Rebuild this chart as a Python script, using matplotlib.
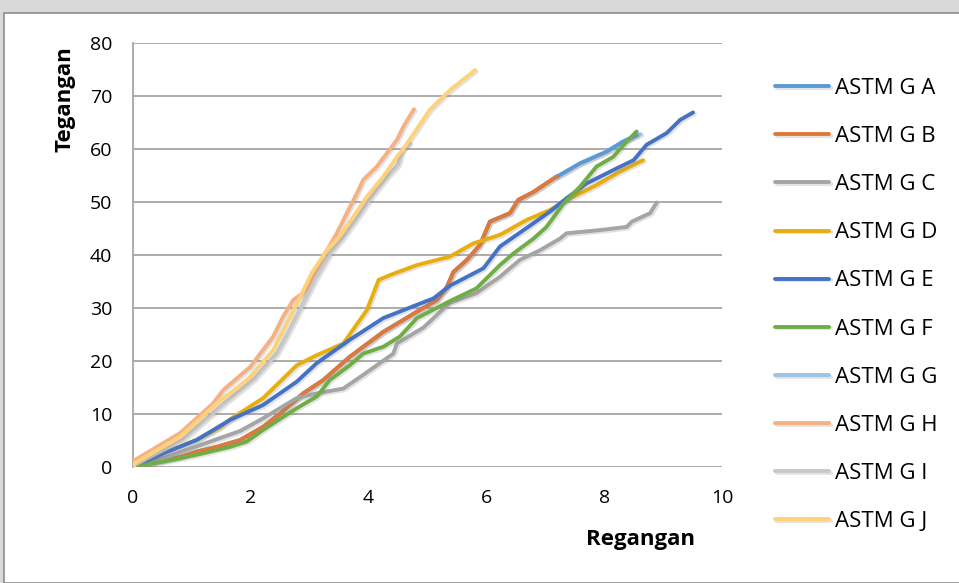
"""
Stress-strain curves for ASTM G specimens (Tegangan vs Regangan).
"""

import matplotlib.pyplot as plt
import matplotlib.patheffects as pe
from matplotlib.patches import Rectangle

# Data
labels = ['ASTM G A', 'ASTM G B', 'ASTM G C', 'ASTM G D', 'ASTM G E',
          'ASTM G F', 'ASTM G G', 'ASTM G H', 'ASTM G I', 'ASTM G J']

a_x = [0, 0.4, 0.8, 1.08, 1.42, 1.82, 2.21, 2.50, 2.89, 3.23, 3.68, 4.25, 4.82, 5.16,
       5.33, 5.44, 5.67, 5.89, 6.06, 6.40, 6.54, 6.80, 7.19, 7.25, 7.59, 8.04, 8.32, 8.55]
a_y = [0, 1.0, 1.9, 2.9, 3.8, 5.1, 7.6, 10.1, 13.9, 16.4, 20.8, 25.5, 29.3, 31.5,
       34.0, 36.8, 39.1, 41.9, 46.3, 47.9, 50.4, 51.9, 54.8, 55.1, 57.3, 59.5, 61.4, 62.6]

b_x = [0, 0.4, 0.8, 1.08, 1.42, 1.82, 2.21, 2.50, 2.89, 3.23, 3.68, 4.25, 4.82, 5.16,
       5.33, 5.44, 5.67, 5.89, 6.06, 6.40, 6.54, 6.80, 7.19]
b_y = [0, 1.0, 1.9, 2.9, 3.8, 5.1, 7.6, 10.1, 13.9, 16.4, 20.8, 25.5, 29.3, 31.5,
       34.0, 36.8, 39.1, 41.9, 46.3, 47.9, 50.4, 51.9, 54.8]

c_x = [0, 0.6, 1.36, 1.82, 2.21, 2.78, 3.12, 3.57, 3.91, 4.42, 4.48, 4.93, 5.38, 5.83,
       6.23, 6.57, 6.91, 7.25, 7.36, 7.93, 8.38, 8.47, 8.78, 8.89]
c_y = [0, 2.0, 5.0, 6.8, 9.2, 13.0, 13.9, 14.8, 17.4, 21.4, 23.3, 26.3, 31.0, 32.8,
       35.9, 39.1, 40.9, 43.1, 44.1, 44.7, 45.3, 46.3, 47.9, 49.9]

d_x = [0, 0.51, 1.08, 1.48, 1.65, 2.21, 2.78, 3.12, 3.57, 3.97, 4.17, 4.36, 4.82, 5.38,
       5.78, 6.23, 6.68, 7.08, 7.31, 7.87, 8.26, 8.66]
d_y = [0, 2.6, 5.1, 7.5, 9.0, 13.0, 19.2, 21.1, 23.3, 29.6, 35.3, 36.2, 38.1, 39.7,
       42.2, 43.8, 46.6, 48.5, 50.1, 53.2, 55.7, 57.9]

e_x = [0, 0.5, 1.08, 1.65, 2.21, 2.78, 3.12, 3.68, 4.25, 4.82, 5.10, 5.38, 5.95, 6.23,
       6.80, 7.08, 7.36, 7.70, 8.15, 8.50, 8.72, 9.06, 9.29, 9.51]
e_y = [0, 2.5, 5.1, 8.9, 11.7, 16.1, 19.6, 24.0, 28.1, 30.6, 31.8, 34.2, 37.5, 41.6,
       46.0, 48.2, 50.7, 53.5, 56.0, 57.9, 60.8, 63.0, 65.5, 66.9]

f_x = [0, 0.51, 1.08, 1.65, 1.93, 2.21, 2.78, 3.12, 3.34, 3.68, 3.91, 4.25, 4.53, 4.82,
       5.38, 5.83, 6.23, 6.46, 6.80, 7.02, 7.31, 7.59, 7.87, 8.15, 8.38, 8.55]
f_y = [0, 1.0, 2.3, 3.8, 4.8, 7.0, 11.1, 13.3, 16.4, 19.2, 21.4, 22.7, 24.6, 28.1,
       31.3, 33.7, 38.1, 40.3, 43.1, 45.3, 49.7, 52.9, 56.7, 58.5, 61.4, 63.3]

g_x = [7.19, 7.25, 7.59, 8.04, 8.32, 8.62]
g_y = [54.8, 55.1, 57.3, 59.5, 61.4, 62.8]

h_x = [0, 0.03, 0.80, 1.36, 1.53, 1.99, 2.38, 2.55, 2.72, 2.92, 3.06, 3.23, 3.46, 3.63,
       3.80, 3.91, 4.14, 4.31, 4.48, 4.59, 4.77]
h_y = [0, 1.3, 6.4, 12.0, 14.5, 18.9, 24.6, 28.4, 31.5, 33.1, 35.9, 39.7, 44.1, 47.9,
       51.6, 54.2, 56.7, 59.2, 61.7, 64.2, 67.5]

i_x = [0, 0.05, 0.85, 1.55, 2.05, 2.45, 2.62, 2.92, 3.10, 3.36, 3.58, 3.82, 4.05, 4.32,
       4.50, 4.58, 4.70]
i_y = [0, 0.5, 5.2, 12.0, 16.5, 21.5, 25.0, 31.5, 35.5, 40.5, 43.5, 47.2, 51.0, 54.8,
       57.0, 60.0, 61.1]

j_x = [0, 0.03, 0.80, 1.48, 1.65, 1.99, 2.38, 2.55, 2.84, 3.03, 3.29, 3.51, 3.74, 3.97,
       4.25, 4.48, 4.59, 4.76, 5.04, 5.38, 5.81]
j_y = [0, 0.7, 5.7, 12.6, 13.9, 17.0, 22.1, 25.8, 32.1, 36.5, 40.9, 43.5, 47.2, 51.0,
       54.8, 58.5, 60.0, 62.8, 67.4, 71.1, 74.9]

colors = ['#5b9bd5', '#e0783a', '#a5a5a5', '#e8ae0c', '#4472c4',
          '#70ad47', '#9dc3e6', '#f4b183', '#c9c9c9', '#ffd27a']

series = [(a_x, a_y), (b_x, b_y), (c_x, c_y), (d_x, d_y), (e_x, e_y),
          (f_x, f_y), (g_x, g_y), (h_x, h_y), (i_x, i_y), (j_x, j_y)]

fig = plt.figure(figsize=(9.59, 5.83), dpi=100)
fig.patch.set_facecolor('#d9d9d9')
# white chart area
fig.patches.append(Rectangle((4 / 959, 0), 1, 1 - 13 / 583, transform=fig.transFigure,
                             facecolor='white', edgecolor='#8c8c8c', lw=1.2, zorder=-5))

ax = fig.add_axes([133 / 959, 116 / 583, 589 / 959, 424 / 583])
ax.set_facecolor('none')

shadow = [pe.SimpleLineShadow(offset=(1.2, -1.2), shadow_color='#7f7f7f', alpha=0.22), pe.Normal()]
for k, ((x, y), lab, col) in enumerate(zip(series, labels, colors)):
    z = 3 + k
    if lab == 'ASTM G G':
        z = 2.5
    ax.plot(x, y, color=col, lw=2.8, label=lab, zorder=z,
            solid_capstyle='round', path_effects=shadow)

ax.set_xlim(0, 10)
ax.set_ylim(0, 80)
ax.set_xticks(range(0, 11, 2))
ax.set_yticks(range(0, 81, 10))
ax.grid(axis='y', color='#a6a6a6', lw=1.3)
ax.set_axisbelow(True)
for s in ['top', 'right', 'bottom']:
    ax.spines[s].set_visible(False)
ax.spines['left'].set_color('#a6a6a6')
ax.spines['left'].set_linewidth(1.3)
ax.tick_params(length=0, labelsize=14)
for t in ax.get_xticklabels() + ax.get_yticklabels():
    t.set_family('Open Sans')
ax.tick_params(axis='y', pad=15)
ax.tick_params(axis='x', pad=16)

fig.text(65 / 959, 1 - 99 / 583, 'Tegangan', rotation=90, ha='center', va='center',
         fontsize=16, fontweight='bold', family='Open Sans')
fig.text(640 / 959, 1 - 540 / 583, 'Regangan', ha='center', va='center',
         fontsize=16, fontweight='bold', family='Open Sans')

leg = ax.legend(loc='upper left', bbox_to_anchor=(755 / 959, 1 - 58 / 583),
                bbox_transform=fig.transFigure, frameon=False,
                prop={'family': 'Open Sans', 'size': 16},
                handlelength=2.45, handletextpad=0.25, labelspacing=1.22)

fig.savefig('out.png', dpi=100, facecolor=fig.get_facecolor())
